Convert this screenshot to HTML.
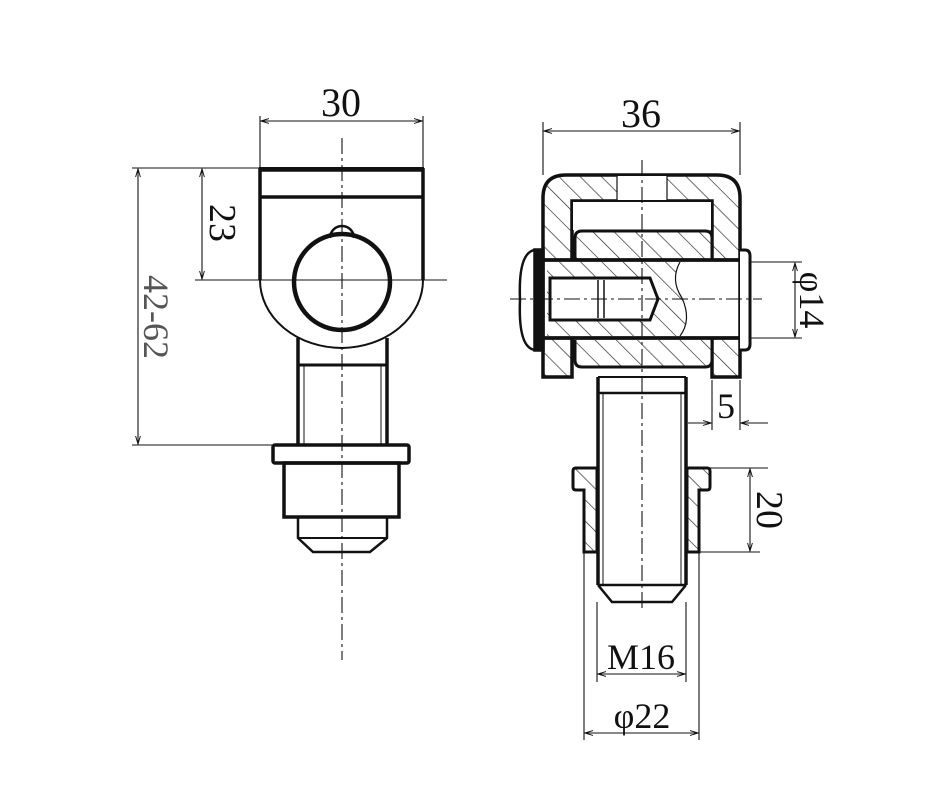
<!DOCTYPE html>
<html><head><meta charset="utf-8"><style>
html,body{margin:0;padding:0;background:#fff;}
svg{display:block;}
text{font-family:"Liberation Serif",serif;fill:#111;}
</style></head><body>
<svg width="943" height="786" viewBox="0 0 943 786" xmlns="http://www.w3.org/2000/svg">
<defs>
<pattern id="h" patternUnits="userSpaceOnUse" width="15" height="15" patternTransform="rotate(-45)">
<rect width="15" height="15" fill="#fff"/><line x1="0" y1="0" x2="0" y2="15" stroke="#222" stroke-width="1.3"/>
</pattern>
<marker id="a" viewBox="0 0 10 10" refX="10" refY="5" markerWidth="10" markerHeight="8" orient="auto-start-reverse" markerUnits="userSpaceOnUse"><path d="M0,2 L10,5 L0,8" fill="none" stroke="#111" stroke-width="1.2"/></marker>
</defs>
<g fill="none" stroke="#111">
<g stroke-width="1.1">
<line x1="260" y1="116" x2="260" y2="168"/><line x1="423" y1="116" x2="423" y2="168"/>
<line x1="261" y1="121" x2="422" y2="121" marker-start="url(#a)" marker-end="url(#a)"/>
<line x1="132" y1="168" x2="260" y2="168"/><line x1="132" y1="445" x2="272" y2="445"/>
<line x1="138" y1="169" x2="138" y2="444" marker-start="url(#a)" marker-end="url(#a)"/>
<line x1="202" y1="169" x2="202" y2="279" marker-start="url(#a)" marker-end="url(#a)"/>
<line x1="195" y1="280" x2="447" y2="280"/>
<line x1="342" y1="138" x2="342" y2="660" stroke-dasharray="16,4,3,4"/>
</g>
<g stroke-width="3.5">
<path d="M260,168 H423 V280 A82,68 0 0 1 342,348 A82,68 0 0 1 260,280 Z" stroke-width="2"/>
<line x1="260" y1="168" x2="260" y2="280"/><line x1="423" y1="168" x2="423" y2="280"/>
<line x1="260" y1="170" x2="423" y2="170"/>
<line x1="260" y1="197" x2="423" y2="197"/>
<path d="M330,238 A12,12 0 0 1 354,238" stroke-width="2.5"/>
<circle cx="342" cy="282" r="48" stroke-width="4.5"/>
<path d="M298,338 V445 M387,338 V445"/>
<line x1="298" y1="365" x2="387" y2="365" stroke-width="3"/>
<rect x="273" y="445" width="136" height="18" rx="2"/>
<rect x="284" y="463" width="115" height="54"/>
<path d="M298,517 V538 L313,552 H370 L387,538 V517" stroke-width="2.5"/>
<line x1="298" y1="538" x2="387" y2="538" stroke-width="2"/>
</g>
<line x1="304" y1="365" x2="304" y2="445" stroke-width="1"/><line x1="381" y1="365" x2="381" y2="445" stroke-width="1"/>

<g stroke-width="1.1">
<line x1="543" y1="122" x2="543" y2="175"/><line x1="740" y1="122" x2="740" y2="175"/>
<line x1="544" y1="131" x2="739" y2="131" marker-start="url(#a)" marker-end="url(#a)"/>
<line x1="750" y1="262" x2="802" y2="262"/><line x1="750" y1="338" x2="802" y2="338"/>
<line x1="795" y1="263" x2="795" y2="337" marker-start="url(#a)" marker-end="url(#a)"/>
<line x1="712" y1="380" x2="712" y2="430"/><line x1="740" y1="380" x2="740" y2="430"/>
<line x1="688" y1="423" x2="711" y2="423" marker-end="url(#a)"/>
<line x1="768" y1="423" x2="741" y2="423" marker-end="url(#a)"/>
<line x1="710" y1="468" x2="768" y2="468"/><line x1="700" y1="552" x2="760" y2="552"/>
<line x1="750" y1="469" x2="750" y2="551" marker-start="url(#a)" marker-end="url(#a)"/>
<line x1="597" y1="602" x2="597" y2="682"/><line x1="686" y1="602" x2="686" y2="682"/>
<line x1="598" y1="674" x2="685" y2="674" marker-start="url(#a)" marker-end="url(#a)"/>
<line x1="584" y1="552" x2="584" y2="740"/><line x1="699" y1="552" x2="699" y2="740"/>
<line x1="585" y1="733" x2="698" y2="733" marker-start="url(#a)" marker-end="url(#a)"/>
</g>
<g stroke-width="3.5">
<path d="M543,377 V198 Q543,175 566,175 H717 Q740,175 740,198 V377 H712 V201 H572 V377 Z" fill="url(#h)"/>
<rect x="617" y="176" width="50" height="24" fill="#fff" stroke="none"/>
<line x1="617" y1="176" x2="617" y2="200" stroke-width="1.2"/><line x1="667" y1="176" x2="667" y2="200" stroke-width="1.2"/>
<rect x="573" y="202" width="138" height="28" fill="#fff" stroke="none"/>
<path d="M575,260 V238 Q575,231 582,231 H705 Q712,231 712,238 V260" fill="url(#h)" stroke-width="3"/>
<path d="M575,340 V360 Q575,367 582,367 H705 Q712,367 712,360 V340" fill="url(#h)" stroke-width="3"/>
<rect x="543" y="260" width="197" height="78" fill="#fff"/>
<path d="M547,262 H680 Q670,280 682,298 Q692,320 680,336 H547 Z" fill="url(#h)" stroke="none"/>
<path d="M680,262 Q670,280 682,298 Q692,320 680,336" stroke-width="1.2"/>
<path d="M550,278 H650 L658,299 L650,320 H550 Z" fill="#fff" stroke-width="3"/>
<path d="M598,280 V318 M604,280 V318" stroke-width="1.5"/>
<line x1="543" y1="260" x2="740" y2="260"/><line x1="543" y1="338" x2="740" y2="338"/>
<path d="M535,250 Q518,252 520,300 Q518,348 535,350" fill="#fff" stroke-width="2.5"/>
<rect x="535" y="250" width="8" height="100" fill="#111"/>
<path d="M740,250 H745 Q750,250 750,256 V344 Q750,350 745,350 H740" fill="#fff" stroke-width="3"/>
<path d="M598,377 V585 M686,377 V585" />
<line x1="598" y1="377" x2="686" y2="377" stroke-width="2"/>
<line x1="598" y1="393" x2="686" y2="393" stroke-width="2.5"/>
<path d="M598,585 L612,602 H672 L686,585" stroke-width="2.5"/>
<line x1="598" y1="585" x2="686" y2="585" stroke-width="2.5"/>
<path d="M597,468 H576 Q573,468 573,471 V487 Q573,490 576,490 H584 V552 H597 Z" fill="url(#h)" stroke-width="3"/>
<path d="M687,468 H707 Q710,468 710,471 V487 Q710,490 707,490 H699 V552 H687 Z" fill="url(#h)" stroke-width="3"/>
</g>
<line x1="603" y1="393" x2="603" y2="585" stroke-width="1"/><line x1="681" y1="393" x2="681" y2="585" stroke-width="1"/>
<g stroke-width="1.1" stroke-dasharray="16,4,3,4">
<line x1="642" y1="160" x2="642" y2="610"/>
<line x1="510" y1="299" x2="762" y2="299"/>
</g>
</g>
<text x="341" y="116" font-size="40" text-anchor="middle">30</text>
<text x="641" y="127" font-size="40" text-anchor="middle">36</text>
<text transform="translate(210,223) rotate(90)" font-size="38" text-anchor="middle">23</text>
<text transform="translate(144,317) rotate(90)" font-size="36" text-anchor="middle" style="fill:#555">42-62</text>
<text transform="translate(800,300) rotate(90)" font-size="36" text-anchor="middle">φ14</text>
<text x="726" y="418" font-size="36" text-anchor="middle">5</text>
<text transform="translate(757,510) rotate(90)" font-size="38" text-anchor="middle">20</text>
<text x="641" y="669" font-size="36" text-anchor="middle">M16</text>
<text x="642" y="728" font-size="36" text-anchor="middle">φ22</text>
</svg>
</body></html>
